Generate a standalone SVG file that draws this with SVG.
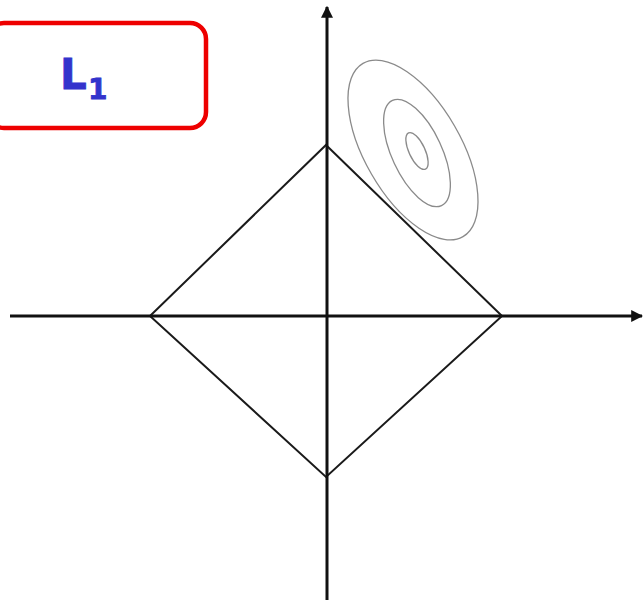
<svg xmlns="http://www.w3.org/2000/svg" width="644" height="604" viewBox="0 0 644 604">
<style>
.axis{stroke:#111;stroke-width:3;fill:none}
.edge{stroke:#1a1a1a;stroke-width:2;fill:none}
.contour{stroke:#8a8a8a;stroke-width:1.3;fill:none}
.lbl{font-family:"DejaVu Sans",Verdana,sans-serif;font-weight:bold;fill:#3333cc;stroke:#3333cc;stroke-width:0.8}
</style>
<defs>
<marker id="arr" viewBox="0 0 10 10" refX="9" refY="5" markerWidth="4" markerHeight="4" orient="auto" markerUnits="strokeWidth">
<path d="M0,0 L10,5 L0,10 z" fill="#111"/>
</marker>
</defs>
<rect width="644" height="604" fill="#fff"/>
<g id="label-box">
<rect x="-12" y="23" width="218" height="105" rx="16" fill="#fff" stroke="#ee0000" stroke-width="4.5"/>
<text class="lbl" x="60" y="89" font-size="42">L</text>
<text class="lbl" x="88" y="99" font-size="28">1</text>
</g>
<g id="contours">
<ellipse class="contour" cx="413" cy="150" rx="100" ry="48" transform="rotate(60 413 150)"/>
<ellipse class="contour" cx="417" cy="153" rx="58" ry="25" transform="rotate(65 417 153)"/>
<ellipse class="contour" cx="417" cy="151" rx="20" ry="8" transform="rotate(65 417 151)"/>
</g>
<g id="diamond">
<polygon class="edge" points="326,145 502,316 326,477 150,316"/>
</g>
<g id="connectors">
<line class="axis" x1="10" y1="316" x2="642" y2="316" marker-end="url(#arr)"/>
<line class="axis" x1="327" y1="600" x2="327" y2="7" marker-end="url(#arr)"/>
</g>
</svg>
